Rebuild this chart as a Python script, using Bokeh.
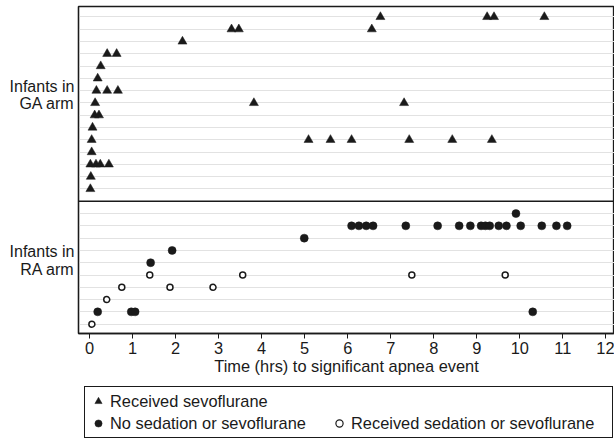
from bokeh.plotting import figure
from bokeh.layouts import column
from bokeh.models import Range1d, FixedTicker, Grid, Span, Legend, LegendItem
from bokeh.embed import file_html
from bokeh.resources import INLINE

# ---------------- data ----------------
# GA arm: one row per infant (1 = bottom row), time in hours of each significant apnea event
ga_row = [1,
          2,
          3, 3, 3, 3,
          4,
          5, 5, 5, 5, 5, 5, 5,
          6,
          7, 7,
          8, 8, 8,
          9, 9, 9,
          10,
          11,
          12, 12,
          13,
          14, 14, 14,
          15, 15, 15, 15]
ga_time = [0.02,
           0.03,
           0.02, 0.15, 0.25, 0.45,
           0.05,
           0.05, 5.09, 5.60, 6.09, 7.43, 8.43, 9.35,
           0.07,
           0.12, 0.22,
           0.13, 3.82, 7.31,
           0.16, 0.41, 0.66,
           0.19,
           0.26,
           0.41, 0.63,
           2.16,
           3.30, 3.47, 6.56,
           6.76, 9.24, 9.40, 10.57]

# RA arm, no sedation or sevoflurane (filled circles)
ra_none_row = [2, 2, 2, 2,
               6,
               7,
               8,
               9, 9, 9, 9, 9, 9, 9, 9, 9, 9, 9, 9, 9, 9, 9, 9, 9,
               10]
ra_none_time = [0.19, 0.97, 1.06, 10.30,
                1.42,
                1.92,
                4.99,
                6.09, 6.26, 6.43, 6.59, 7.35, 8.09, 8.59, 8.85, 9.10, 9.20, 9.30,
                9.51, 9.69, 10.02, 10.51, 10.85, 11.10,
                9.91]

# RA arm, received sedation or sevoflurane (open circles)
ra_sed_row = [1,
              3,
              4, 4, 4,
              5, 5, 5, 5]
ra_sed_time = [0.055,
               0.40,
               0.75, 1.87, 2.87,
               1.40, 3.56, 7.49, 9.66]

ra_rows = list(range(1, 11))
ga_rows = list(range(1, 16))
x_ticks = list(range(0, 13))

x_title = "Time (hrs) to significant apnea event"
group_label_text = ["Infants in", "RA arm", "Infants in", "GA arm"]
group_label_pos = [6.95, 5.47, 20.35, 18.93]
legend_labels = ["Received sevoflurane", "No sedation or sevoflurane",
                 "Received sedation or sevoflurane"]

# ---------------- layout ----------------
GA_OFFSET = 11          # GA panel sits above the RA panel (divider at 11)
INK = "#1a1a1a"
FONT = "Liberation Sans"
FS = "16.4px"
NAN = float("nan")

ga_y = [r + GA_OFFSET for r in ga_row]

p = figure(width=614, height=380, output_backend="svg", toolbar_location=None,
           x_range=Range1d(-0.256, 12.2), y_range=Range1d(0.24, 26.85),
           min_border_left=78, min_border_right=0, min_border_top=6,
           min_border_bottom=47)

p.xgrid.visible = False
p.ygrid.visible = False
p.background_fill_color = "white"
p.border_fill_color = "white"
p.outline_line_color = INK
p.outline_line_width = 1.3
p.outline_line_alpha = 1.0

grid_ticks = ra_rows + [r + GA_OFFSET for r in ga_rows]
p.add_layout(Grid(dimension=1, ticker=FixedTicker(ticks=grid_ticks),
                  grid_line_color="#e2e2e2", grid_line_width=1))

p.add_layout(Span(location=GA_OFFSET, dimension="width", line_color=INK,
                  line_width=1.3))

p.scatter(ga_time, ga_y, marker="triangle", size=9,
          fill_color=INK, line_color=INK, line_width=0.5)
p.scatter(ra_none_time, ra_none_row, marker="circle", size=8,
          fill_color=INK, line_color=INK, line_width=0.5)
p.scatter(ra_sed_time, ra_sed_row, marker="circle", size=6,
          fill_color="white", line_color=INK, line_width=1.5)

# x axis
ax = p.xaxis[0]
ax.ticker = FixedTicker(ticks=x_ticks)
ax.axis_label = x_title
ax.axis_label_text_font = FONT
ax.axis_label_text_font_size = FS
ax.axis_label_text_font_style = "normal"
ax.axis_label_text_color = INK
ax.axis_label_standoff = 0
ax.major_label_text_font = FONT
ax.major_label_text_font_size = FS
ax.major_label_text_color = INK
ax.major_label_standoff = 3
ax.major_tick_out = 5
ax.major_tick_in = 0
ax.minor_tick_out = 0
ax.minor_tick_in = 0
ax.axis_line_color = INK
ax.axis_line_width = 1.3
ax.major_tick_line_color = INK

# y axis: group labels only
ay = p.yaxis[0]
ay.ticker = FixedTicker(ticks=group_label_pos)
ay.major_label_overrides = {v: t for v, t in zip(group_label_pos, group_label_text)}
ay.major_label_text_font = FONT
ay.major_label_text_font_size = "16px"
ay.major_label_text_color = INK
ay.major_label_standoff = 4
ay.major_tick_out = 0
ay.major_tick_in = 0
ay.minor_tick_out = 0
ay.minor_tick_in = 0
ay.axis_line_color = INK
ay.axis_line_width = 1.3

# ---------------- legend panel ----------------
lg = figure(width=614, height=60, output_backend="svg", toolbar_location=None,
            x_range=Range1d(0, 1), y_range=Range1d(0, 1),
            min_border_left=0, min_border_right=0, min_border_top=0,
            min_border_bottom=0)
lg.axis.visible = False
lg.grid.visible = False
lg.outline_line_color = None
lg.background_fill_color = "white"
lg.border_fill_color = "white"

# legend proxies (no visible points: NaN positions)
l_tri = lg.scatter([NAN], [NAN], marker="triangle", size=9, fill_color=INK,
                   line_color=INK, line_width=0.5)
l_dot = lg.scatter([NAN], [NAN], marker="circle", size=8, fill_color=INK,
                   line_color=INK, line_width=0.5)
l_ring = lg.scatter([NAN], [NAN], marker="circle", size=6, fill_color="white",
                    line_color=INK, line_width=1.2)
l_blank = lg.scatter([NAN], [NAN], marker="circle", size=1, fill_alpha=0,
                     line_alpha=0)

legend = Legend(items=[LegendItem(label=legend_labels[0], renderers=[l_tri]),
                       LegendItem(label=" ", renderers=[l_blank]),
                       LegendItem(label=legend_labels[1], renderers=[l_dot]),
                       LegendItem(label=legend_labels[2] + "   ", renderers=[l_ring])],
                location=(6, 2), orientation="horizontal", ncols=2,
                glyph_width=18, glyph_height=20, label_standoff=3,
                label_width=218, spacing=2, padding=4, margin=0,
                border_line_color=INK, border_line_width=1, border_line_alpha=1,
                label_text_font=FONT, label_text_font_size=FS,
                label_text_color=INK, background_fill_alpha=1)
lg.add_layout(legend, "center")

layout = column(p, lg, spacing=0)
open("out.html", "w").write(file_html(layout, INLINE))
